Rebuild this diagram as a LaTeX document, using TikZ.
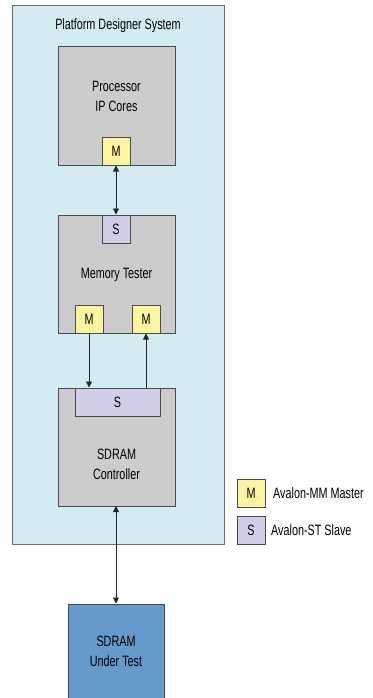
\documentclass[tikz,border=0pt]{standalone}
\usepackage{fontspec}
\setmainfont{Liberation Sans}[FakeStretch=0.72]
\usetikzlibrary{arrows.meta}
\definecolor{sysfill}{HTML}{D3ECF2}
\definecolor{sysdraw}{HTML}{6E6E6E}
\definecolor{blkfill}{HTML}{CCCCCC}
\definecolor{blkdraw}{HTML}{4A4A4A}
\definecolor{mfill}{HTML}{FBF5A0}
\definecolor{sfill}{HTML}{D0CDE8}
\definecolor{utfill}{HTML}{6699CC}
\tikzset{
  sysbox/.style={draw=sysdraw, fill=sysfill, line width=1pt},
  blk/.style={draw=blkdraw, fill=blkfill, line width=1pt},
  port/.style={draw=blkdraw, line width=1pt, font=\fontsize{15}{17}\selectfont, minimum height=28pt, inner sep=0pt},
  mport/.style={port, fill=mfill, minimum width=28pt},
  sport/.style={port, fill=sfill},
  lbl/.style={font=\fontsize{15}{20}\selectfont, align=center, inner sep=0pt},
  conn/.style={line width=0.9pt, black!85, -{Triangle[length=6pt,width=6pt]}},
  bconn/.style={line width=0.9pt, black!85, {Triangle[length=6pt,width=6pt]}-{Triangle[length=6pt,width=6pt]}}
}
\begin{document}
\begin{tikzpicture}[x=1pt,y=-1pt]
\useasboundingbox (0,0) rectangle (372,698);
% system
\draw[sysbox] (12,6) rectangle (224,544);
\node[lbl] (title) at (118,26) {Platform Designer System};
% processor
\draw[blk] (58,47) rectangle (175,165);
\node[lbl] (proclbl) at (116.5,96) {Processor\\IP Cores};
\node[mport] (pm) at (116,151) {M};
% memory tester
\draw[blk] (58,215) rectangle (175,333);
\node[sport, minimum width=28pt] (ts) at (116,229) {S};
\node[lbl] (tlbl) at (116.5,275) {Memory Tester};
\node[mport] (tm1) at (89,319) {M};
\node[mport] (tm2) at (146,319) {M};
% sdram controller
\draw[blk] (58,388) rectangle (175,506);
\node[sport, minimum width=85pt] (cs) at (117.5,402) {S};
\node[lbl] (clbl) at (116.5,464) {SDRAM\\Controller};
\coordinate (cbot) at (116,506);
% under test
\node[draw=blkdraw, fill=utfill, line width=1pt, minimum width=96pt, minimum height=96pt, inner sep=0pt] (ut) at (116,652) {};
\node[lbl] (utlbl) at (116,651) {SDRAM\\Under Test};
% connectors
\draw[bconn] (pm.south) -- (ts.north);
\draw[conn] (tm1.south) -- (tm1.south |- cs.north);
\draw[conn] (tm2.south |- cs.north) -- (tm2.south);
\draw[bconn] (cbot) -- (ut.north);
% legend
\node[mport] (lm) at (251,493) {M};
\node[lbl, anchor=west] (lmt) at (273,493) {Avalon-MM Master};
\node[sport, minimum width=28pt] (ls) at (251,530) {S};
\node[lbl, anchor=west] (lst) at (271,530) {Avalon-ST Slave};
\end{tikzpicture}
\end{document}
